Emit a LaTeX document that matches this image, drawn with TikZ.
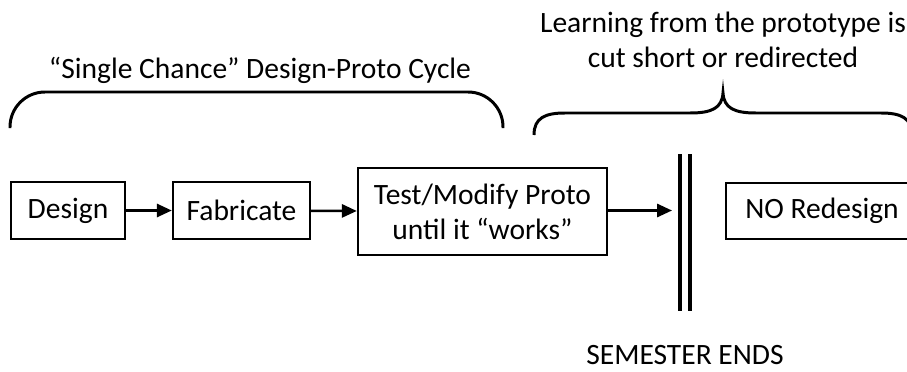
\documentclass[tikz,border=0pt]{standalone}
\usepackage{fontspec}
\setmainfont{Carlito}
\usetikzlibrary{arrows.meta}

\begin{document}
\begin{tikzpicture}[x=0.02cm,y=-0.02cm,
		every node/.style={font=\fontsize{16.8}{19.8}\selectfont},
		stagebox/.style={draw,line width=1.4pt,minimum height=1.14cm,inner sep=0pt},
		flow/.style={line width=1.4pt,-{Triangle[length=8.5pt,width=7.5pt]}},
		brace/.style={line width=1.7pt,rounded corners=0.7cm}]
			\useasboundingbox (0,0) rectangle (907,372);
			\clip (0,0) rectangle (907,372);
			\node[stagebox,minimum width=2.28cm] (design) at (68,210.5) {Design};
			\node[stagebox,minimum width=2.74cm] (fab) at (241.5,210.5) {Fabricate};
			\node[stagebox,minimum width=4.98cm,minimum height=1.74cm,align=center] (test) at (482.5,211.5) {Test/Modify Proto\\until it “works”};
			\node[stagebox,minimum width=3.84cm,minimum height=1.12cm] (noredesign) at (822,211) {NO Redesign};
			\coordinate (wall) at (672,210.5);
			\draw[flow] (design) -- (fab);
			\draw[flow] (fab) -- (test);
			\draw[flow] (test.east |- wall) -- (wall);
			% semester wall
			\foreach \x in {680,690}{
				\draw[line width=1.8pt] (\x,154) -- (\x,311);
			}
			% braces
			\draw[brace] (10,128) -- (10,92) -- (503,92) -- (503,128);
			\draw[line width=1.7pt] (534,135) .. controls (534,118) and (545,113) .. (565,113)
				-- (690,113) .. controls (712,113) and (722,108) .. (723,93)
				.. controls (724,108) and (734,113) .. (756,113)
				-- (881,113) .. controls (901,113) and (912,118) .. (912,135);
			\node (single) at (260,70) {“Single Chance” Design-Proto Cycle};
			\node[align=center] (learning) at (723,40) {Learning from the prototype is\\cut short or redirected};
			\node (semester) at (685,355) {SEMESTER ENDS};
		\end{tikzpicture}
\end{document}
